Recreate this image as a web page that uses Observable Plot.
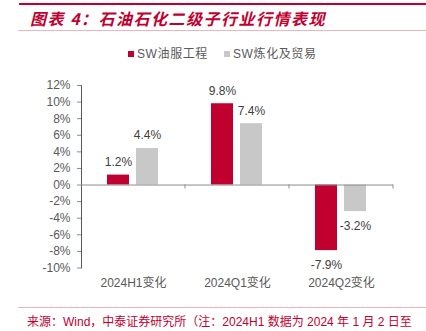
<!DOCTYPE html>
<html>
<head>
<meta charset="utf-8">
<script src="https://cdn.jsdelivr.net/npm/d3@7"></script>
<script src="https://cdn.jsdelivr.net/npm/@observablehq/plot@0.6"></script>
<style>
  html, body { margin: 0; padding: 0; background: #fff; }
  #root { position: relative; width: 426px; height: 331px; overflow: hidden; font-family: "Liberation Sans", "Noto Sans CJK SC", sans-serif; }
  .topline { position: absolute; left: 19px; right: 0; top: 3px; height: 2px; background: #C0002F; }
  .subline { position: absolute; left: 18px; right: 0; top: 30px; height: 1px; background: #EFB3BC; }
  .footline { position: absolute; left: 18px; right: 0; top: 307px; height: 1px; background: #EFB3BC; }
  .title { position: absolute; left: 30px; top: 8px; font-family: "Noto Sans CJK SC", sans-serif; font-weight: bold; font-style: italic; font-size: 16px; letter-spacing: 1.5px; color: #C0002F; line-height: 20px; white-space: nowrap; }
  .legend { position: absolute; left: 0; width: 426px; top: 46px; height: 16px; font-size: 12px; letter-spacing: 0.6px; color: #595959; line-height: 16px; white-space: nowrap; }
  .legend span.item { position: absolute; top: 0; }
  .legend i { display: inline-block; width: 6px; height: 6px; margin-right: 3px; vertical-align: 1px; }
  .footer { position: absolute; left: 27px; top: 314px; font-size: 12px; color: #C0002F; line-height: 16px; white-space: nowrap; }
  #chart { position: absolute; left: 0; top: 62px; }
  #chart g[aria-label="y-axis tick"], #chart g[aria-label="y-axis line"] { color: #8c8c8c; }
</style>
</head>
<body>
<div id="root">
  <div class="topline"></div>
  <div class="title">图表 4：石油石化二级子行业行情表现</div>
  <div class="subline"></div>
  <div class="legend" id="legend"></div>
  <div id="chart"></div>
  <div class="footline"></div>
  <div class="footer">来源：Wind，中泰证券研究所（注：2024H1 数据为 2024 年 1 月 2 日至</div>
</div>
<script>
const categories = ["2024H1变化", "2024Q1变化", "2024Q2变化"];
const seriesNames = ["SW油服工程", "SW炼化及贸易"];
const oilService = [1.2, 9.8, -7.9];
const refining = [4.4, 7.4, -3.2];
const yTicks = [-10, -8, -6, -4, -2, 0, 2, 4, 6, 8, 10, 12];
const colors = ["#C0002F", "#C8C8C8"];

const table = [];
categories.forEach((c, i) => {
  table.push({category: c, series: seriesNames[0], value: oilService[i]});
  table.push({category: c, series: seriesNames[1], value: refining[i]});
});

// legend
const legend = document.getElementById("legend");
const legendX = [128, 224];
seriesNames.forEach((s, i) => {
  const el = document.createElement("span");
  el.className = "item";
  el.style.left = legendX[i] + "px";
  el.innerHTML = `<i style="background:${colors[i]}"></i>${s}`;
  legend.appendChild(el);
});

const boundaryTicks = (index, scales, values, dimensions) => {
  const y0 = scales.y(0);
  const x = dimensions.width - dimensions.marginRight;
  const g = document.createElementNS("http://www.w3.org/2000/svg", "line");
  g.setAttribute("x1", x); g.setAttribute("x2", x);
  g.setAttribute("y1", y0); g.setAttribute("y2", y0 + 4);
  g.setAttribute("stroke", "#8c8c8c");
  return g;
};

const fmt = d => d.value.toFixed(1) + "%";

const chart = Plot.plot({
  width: 426,
  height: 238,
  marginLeft: 80,
  marginRight: 32,
  marginTop: 23,
  marginBottom: 32.5,
  style: {fontFamily: '"Liberation Sans", "Noto Sans CJK SC", sans-serif', fontSize: "12px", color: "#595959", background: "transparent"},
  fx: {domain: categories, padding: 0, label: null, tickSize: 0, tickPadding: 10, axis: "bottom"},
  x: {domain: seriesNames, paddingInner: 0.233, paddingOuter: 0.861, axis: null},
  y: {domain: [-10, 12], ticks: yTicks, tickFormat: d => d + "%", tickSize: 4, tickPadding: 7, line: true, label: null},
  color: {domain: seriesNames, range: colors},
  marks: [
    Plot.barY(table, {fx: "category", x: "series", y: "value", fill: "series"}),
    Plot.ruleY([0], {stroke: "#8c8c8c"}),
    boundaryTicks,
    Plot.text(table.filter(d => d.value >= 0), {fx: "category", x: "series", y: "value", text: fmt, dy: -13, fill: "#404040", fontSize: 12}),
    Plot.text(table.filter(d => d.value < 0), {fx: "category", x: "series", y: "value", text: fmt, dy: 15, fill: "#404040", fontSize: 12})
  ]
});
document.getElementById("chart").appendChild(chart);
</script>
</body>
</html>
